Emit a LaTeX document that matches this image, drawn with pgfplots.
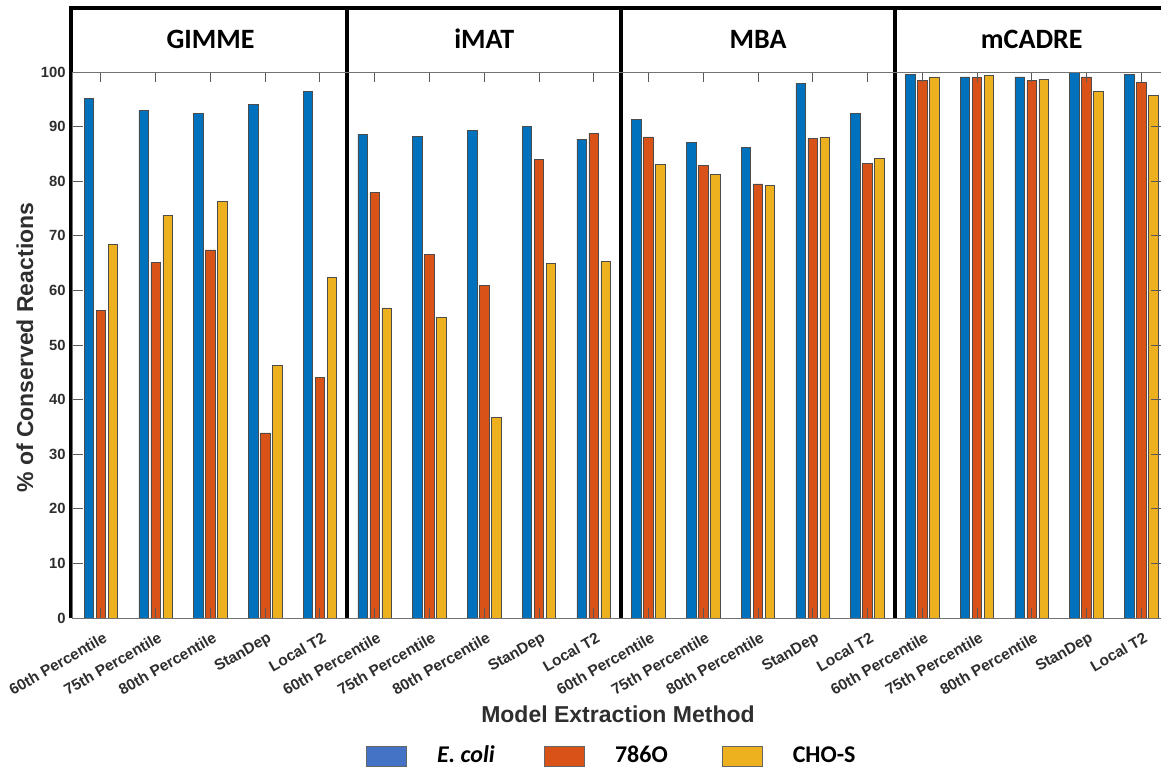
\documentclass[border=0pt]{standalone}
\usepackage{pgfplots}
\usepackage{pgfplotstable}
\pgfplotsset{compat=1.18}
\usepackage{fontspec}
\setmainfont{Liberation Sans}
\newfontfamily\calfont{Carlito}

\definecolor{barblue}{HTML}{0072BD}
\definecolor{barorange}{HTML}{D95319}
\definecolor{baryellow}{HTML}{EDB120}
\definecolor{legblue}{HTML}{4472C4}
\definecolor{labgray}{HTML}{2E2E2E}

% % of conserved reactions per extraction method and threshold
% idx: 0-4 GIMME, 5-9 iMAT, 10-14 MBA, 15-19 mCADRE
\pgfplotstableread{
idx ecoli o786 chos
0   95.2  56.3  68.4
1   92.9  65.1  73.8
2   92.4  67.4  76.3
3   94.0  33.9  46.2
4   96.4  44.1  62.4
5   88.6  77.9  56.8
6   88.2  66.6  55.1
7   89.3  60.9  36.7
8   90.1  84.0  65.0
9   87.7  88.8  65.3
10  91.3  88.1  83.1
11  87.1  82.9  81.3
12  86.2  79.5  79.3
13  97.9  87.9  88.0
14  92.4  83.2  84.1
15  99.5  98.5  99.1
16  99.1  99.0  99.3
17  99.1  98.4  98.7
18  100.0 99.1  96.5
19  99.6  98.1  95.7
}\datatable

\begin{document}
\begin{tikzpicture}
\begin{axis}[
  name=ax,
  scale only axis,
  width=544pt, height=273pt,
  xmin=-0.511, xmax=19.36,
  ymin=0, ymax=100,
  xtick={0,...,19},
  xticklabels={60th Percentile,75th Percentile,80th Percentile,StanDep,Local T2,
               60th Percentile,75th Percentile,80th Percentile,StanDep,Local T2,
               60th Percentile,75th Percentile,80th Percentile,StanDep,Local T2,
               60th Percentile,75th Percentile,80th Percentile,StanDep,Local T2},
  ytick={0,10,...,100},
  tick align=inside,
  xtick pos=both, ytick pos=both,
  major tick length=5pt,
  every tick/.style={black!65, line width=0.5pt},
  axis line style={black!55, line width=0.5pt},
  axis on top,
  clip=false,
  /pgf/number format/assume math mode=true,
  yticklabel style={font=\bfseries\fontsize{7.4}{8}\selectfont, text=labgray, inner sep=1pt, xshift=-2.5pt},
  xticklabel style={font=\bfseries\fontsize{7.7}{9}\selectfont, text=labgray, rotate=30, anchor=north east, inner sep=0pt, xshift=-2.5pt, yshift=-6pt},
  xlabel={Model Extraction Method},
  ylabel={\% of Conserved Reactions},
  every axis x label/.style={at={(axis description cs:0.5009,-0.1905)}, anchor=base,
    font=\bfseries\fontsize{11.5}{13}\selectfont, text=labgray},
  every axis y label/.style={at={(axis description cs:-0.0441,0.495)}, rotate=90, anchor=center,
    font=\bfseries\fontsize{11.5}{13}\selectfont, text=labgray},
  legend columns=3,
  legend cell align=left,
  legend style={at={(axis description cs:0.2693,-0.2527)}, anchor=west,
    draw=none, fill=none, inner sep=0pt,
    font=\calfont\bfseries\fontsize{12}{14}\selectfont,
    /tikz/every odd column/.append style={column sep=15pt},
    nodes={inner sep=0pt}},
]
% bars: E. coli, 786O, CHO-S
\addplot[ybar, bar width=4.8pt, bar shift=-6pt, fill=barblue, draw=black!70, line width=0.35pt, forget plot]
  table[x=idx, y=ecoli] {\datatable};
\addplot[ybar, bar width=4.8pt, bar shift=0pt, fill=barorange, draw=black!70, line width=0.35pt, forget plot]
  table[x=idx, y=o786] {\datatable};
\addplot[ybar, bar width=4.8pt, bar shift=6pt, fill=baryellow, draw=black!70, line width=0.35pt, forget plot]
  table[x=idx, y=chos] {\datatable};

\addlegendimage{legend image code/.code={\draw[fill=legblue, draw=black!60, line width=0.4pt] (0pt,-5pt) rectangle (20pt,5pt);}}
\addlegendentry{\makebox[53.5pt][l]{\itshape E. coli}}
\addlegendimage{legend image code/.code={\draw[fill=barorange, draw=black!60, line width=0.4pt] (0pt,-5pt) rectangle (20pt,5pt);}}
\addlegendentry{\makebox[53.5pt][l]{786O}}
\addlegendimage{legend image code/.code={\draw[fill=baryellow, draw=black!60, line width=0.4pt] (0pt,-5pt) rectangle (20pt,5pt);}}
\addlegendentry{\makebox[53.5pt][l]{CHO-S}}

% panel frame and header band
\draw[line width=2pt, black, line join=miter]
  ([xshift=-1pt]rel axis cs:0,0) -- ([xshift=-1pt, yshift=32pt]rel axis cs:0,1)
  -- ([xshift=2pt, yshift=32pt]rel axis cs:1,1);
\draw[line width=2pt, black] (axis cs:4.5,0) -- ([yshift=32pt]axis cs:4.5,100);
\draw[line width=2pt, black] (axis cs:9.5,0) -- ([yshift=32pt]axis cs:9.5,100);
\draw[line width=2pt, black] (axis cs:14.5,0) -- ([yshift=32pt]axis cs:14.5,100);

% panel titles
\node[font=\calfont\bfseries\fontsize{14}{16}\selectfont, anchor=base] at ([yshift=12pt]axis cs:2,100) {GIMME};
\node[font=\calfont\bfseries\fontsize{14}{16}\selectfont, anchor=base] at ([yshift=12pt]axis cs:7,100) {iMAT};
\node[font=\calfont\bfseries\fontsize{14}{16}\selectfont, anchor=base] at ([yshift=12pt]axis cs:12,100) {MBA};
\node[font=\calfont\bfseries\fontsize{14}{16}\selectfont, anchor=base] at ([yshift=12pt]axis cs:17,100) {mCADRE};
\end{axis}
\pgfresetboundingbox
\path ([xshift=-36.5pt, yshift=-74.5pt]ax.south west) rectangle ([yshift=36pt]ax.north east);
\end{tikzpicture}
\end{document}
